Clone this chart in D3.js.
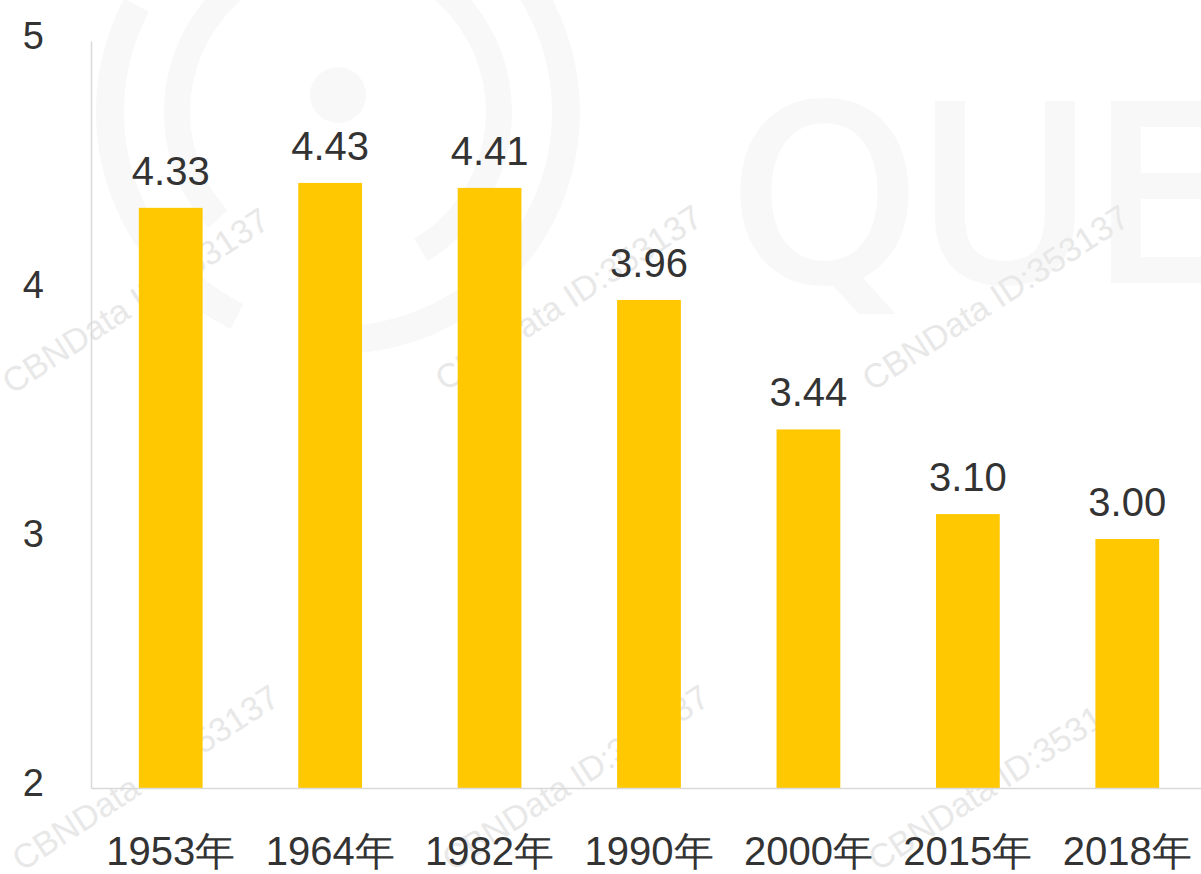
<!DOCTYPE html>
<html>
<head>
<meta charset="utf-8">
<script src="https://cdn.jsdelivr.net/npm/d3@7"></script>
<style>
    html, body { margin: 0; padding: 0; background: #fff; }
    svg { display: block; font-family: "Liberation Sans", Arial, "Noto Sans CJK SC", sans-serif; }
    .axis text { fill: #333; }
    .axis path { stroke: #d9d9d9; stroke-width: 1.5; }
</style>
</head>
<body>
<svg id="chart" width="1201" height="874"></svg>
<script>
// 户均人口数 by census year
var years = ["1953年", "1964年", "1982年", "1990年", "2000年", "2015年", "2018年"];
var values = [4.33, 4.43, 4.41, 3.96, 3.44, 3.10, 3.00];
var yTicks = [2, 3, 4, 5];
var watermark = "CBNData ID:353137";

var plotLeft = 91,
    plotTop = 41,
    plotBottom = 788;

var svg = d3.select("#chart");

// faint background logo / watermark
var bg = svg.append("g").attr("class", "watermark");

var arc = d3.arc();
var logoRings = [
    { r0: 148, r1: 174, a0: -2.3, a1: 2.6 },
    { r0: 214, r1: 242, a0: -0.6, a1: 3.3 },
    { r0: 214, r1: 242, a0: 3.6, a1: 5.2 }
];
bg.selectAll("path.ring")
    .data(logoRings)
    .enter().append("path")
    .attr("class", "ring")
    .attr("transform", "translate(338,112)")
    .attr("d", function (d) {
        return arc({ innerRadius: d.r0, outerRadius: d.r1, startAngle: d.a0, endAngle: d.a1 });
    })
    .style("fill", "#f8f8f8");

bg.append("circle")
    .attr("cx", 338)
    .attr("cy", 95)
    .attr("r", 28)
    .style("fill", "#f8f8f8");

bg.append("text")
    .attr("x", 730)
    .attr("y", 280)
    .style("font-family", "'DejaVu Sans', sans-serif")
    .style("font-size", "240px")
    .style("letter-spacing", "-2px")
    .style("fill", "#f8f8f8")
    .style("stroke", "#f8f8f8")
    .style("stroke-width", 6)
    .text("QUE");

var wmPos = [[12, 395], [445, 392], [872, 392], [22, 872], [452, 872], [878, 872]];
bg.selectAll("text.wm")
    .data(wmPos)
    .enter().append("text")
    .attr("class", "wm")
    .attr("transform", function (d) { return "translate(" + d[0] + "," + d[1] + ") rotate(-33)"; })
    .style("font-size", "34px")
    .style("fill", "#e8e8e8")
    .text(watermark);

var x = d3.scaleBand()
    .domain(years)
    .range([plotLeft, plotLeft + 1116])
    .paddingInner(0.6)
    .paddingOuter(0.3);

var y = d3.scaleLinear()
    .domain([2, 5])
    .range([plotBottom, plotTop]);

// bars
svg.selectAll("rect.bar")
    .data(values)
    .enter().append("rect")
    .attr("class", "bar")
    .attr("x", function (d, i) { return x(years[i]); })
    .attr("y", function (d) { return y(d); })
    .attr("width", x.bandwidth())
    .attr("height", function (d) { return y(2) - y(d); })
    .style("fill", "#FFC800");

// value labels
svg.selectAll("text.value")
    .data(values)
    .enter().append("text")
    .attr("class", "value")
    .attr("x", function (d, i) { return x(years[i]) + x.bandwidth() / 2; })
    .attr("y", function (d) { return y(d) - 23; })
    .attr("text-anchor", "middle")
    .style("font-size", "40px")
    .style("fill", "#333")
    .text(function (d) { return d3.format(".2f")(d); });

// y axis
var yAxis = svg.append("g")
    .attr("class", "axis")
    .attr("transform", "translate(" + plotLeft + ",0)")
    .call(d3.axisLeft(y).tickValues(yTicks).tickSize(0).tickPadding(47).tickFormat(d3.format("d")));
yAxis.selectAll("text")
    .style("font-size", "38px")
    .attr("dy", "0.2em");

// x axis
var xAxis = svg.append("g")
    .attr("class", "axis")
    .attr("transform", "translate(0," + plotBottom + ")")
    .call(d3.axisBottom(x).tickSize(0).tickSizeOuter(0).tickPadding(47));
xAxis.selectAll("text")
    .style("font-size", "40px")
    .attr("dy", "0.75em");
</script>
</body>
</html>
